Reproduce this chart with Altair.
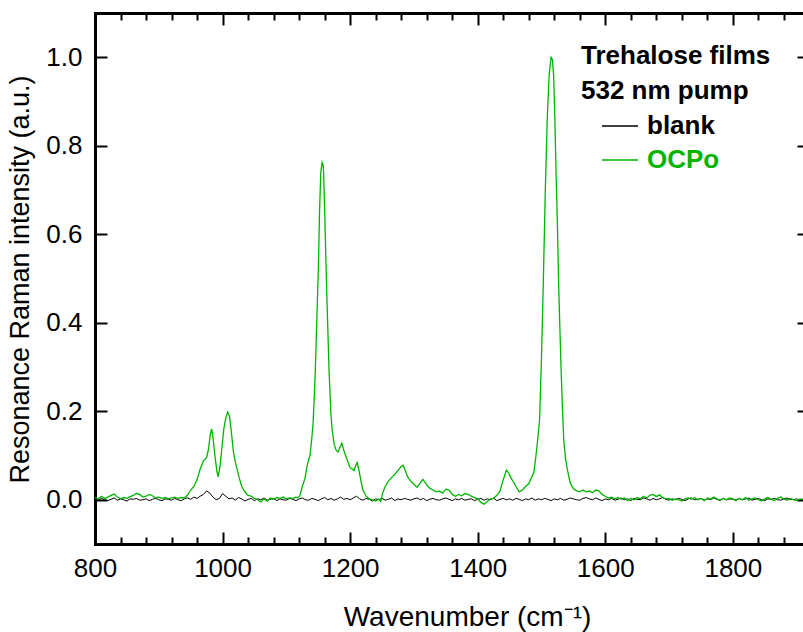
import altair as alt
import pandas as pd

# ---------------- data ----------------
# blank spectrum, sampled every 5 cm-1 from 800 to 1910 (values in 1/1000 a.u.)
blank_x = list(range(800, 1915, 5))
blank_milli = [
    2, -1, 3, 0, -2, 1, 4, -1, 2, 0, -3, 2, 1, 3, -1, 0, 2, -2, 1, 3,       # 800-895
    0, -2, 2, 1, -1, 3, 0, -2, 2, 4, 1, 6, 3, 8, 12, 20, 15, 6, 0, 3,        # 900-995
    14, 8, 2, 4, -1, 5, 2, -3, 1, 3, -2, 2, 0, 4, -1, 1, 3, -2, 2, 0,        # 1000-1095
    -1, 3, 1, -2, 2, 4, 0, -1, 3, 1, -2, 2, 5, 0, 3, -1, 2, 6, 1, 3,         # 1100-1195
    0, 4, 8, 2, -1, 3, 1, -3, 2, 0, 3, -1, 1, 4, -2, 2, 0, 3, 1, -1,         # 1200-1295
    2, 4, 0, 3, -2, 1, 3, 0, -1, 2, 4, 1, -2, 2, 0, 3, -1, 1, 2, -2,         # 1300-1395
    1, 3, -1, 2, 0, 4, -2, 1, 3, 0, 2, -1, 3, 1, -2, 2, 0, 4, -1, 2,         # 1400-1495
    0, 3, 1, -2, 2, 0, 3, -1, 1, 4, 2, 0, -1, 3, 5, 2, 0, 4, 1, -2,          # 1500-1595
    2, 0, 3, -1, 1, 4, 0, 2, -2, 3, 1, 0, 4, 2, -1, 3, 0, 2, 5, 1,           # 1600-1695
    -1, 2, 0, 3, 1, -2, 2, 4, 0, 1, 3, -1, 2, 0, 4, 1, -2, 3, 0, 2,          # 1700-1795
    1, -1, 3, 0, 2, 4, -1, 1, 3, 0, -2, 2, 1, 3, 0, -1, 2, 4, 1, 0,          # 1800-1895
    2, -1, 1,                                                                # 1900-1910
]

# OCPo spectrum (wavenumber, intensity in 1/1000 a.u.)
ocpo_x = [
    800, 805, 810, 815, 820, 825, 830, 835, 840, 845, 850, 855, 860, 865, 870,
    875, 880, 885, 890, 895, 900, 905, 910, 915, 920, 925, 930, 935, 940,
    945, 950, 955, 960, 965, 970, 975, 978, 981, 983, 985, 988, 991, 993, 996,
    999, 1002, 1005, 1008, 1011, 1014, 1017, 1020, 1023, 1026, 1030, 1035, 1040,
    1045, 1050, 1055, 1060, 1065, 1070, 1075, 1080, 1085, 1090, 1095, 1100, 1105,
    1110, 1115, 1118, 1121, 1125, 1129, 1133, 1137, 1140, 1142, 1144, 1146, 1148,
    1150, 1152, 1154, 1156, 1158, 1160, 1162, 1164, 1167, 1170, 1172, 1175, 1178,
    1181, 1184, 1187, 1190, 1193, 1196, 1200, 1203, 1206, 1209, 1211, 1214, 1217,
    1220, 1225, 1230, 1235, 1240, 1245, 1248, 1251, 1255, 1260, 1265, 1270, 1275,
    1280, 1283, 1286, 1290, 1295, 1300, 1305, 1310, 1314, 1318, 1322, 1326, 1330,
    1335, 1340, 1345, 1350, 1355, 1360, 1365, 1370, 1375, 1380, 1385, 1390, 1395,
    1400, 1405, 1410, 1415, 1420, 1425, 1430, 1435, 1440, 1445, 1448, 1452, 1456,
    1460, 1465, 1470, 1475, 1480, 1485, 1488, 1491, 1494, 1497, 1500, 1503, 1506,
    1509, 1512, 1515, 1517, 1519, 1521, 1523, 1525, 1527, 1529, 1531, 1533, 1535,
    1538, 1541, 1545, 1550, 1555, 1560, 1565, 1570, 1575, 1580, 1585, 1590, 1595,
    1600, 1605, 1610, 1615, 1620, 1625, 1630, 1635, 1640, 1645, 1650, 1655, 1660,
    1665, 1670, 1675, 1680, 1685, 1690, 1695, 1700, 1705, 1710, 1715, 1720, 1725,
    1730, 1735, 1740, 1745, 1750, 1755, 1760, 1765, 1770, 1775, 1780, 1785, 1790,
    1795, 1800, 1805, 1810, 1815, 1820, 1825, 1830, 1835, 1840, 1845, 1850, 1855,
    1860, 1865, 1870, 1875, 1880, 1885, 1890, 1895, 1900, 1905, 1910,
]
ocpo_milli = [
    5, 2, 8, 3, 6, 10, 13, 6, 2, 5, 3, 7, 10, 14, 12,
    6, 8, 12, 9, 4, 6, 3, 5, 2, 4, 6, 3, 5, 4,
    10, 22, 30, 45, 70, 88, 95, 115, 150, 160, 140, 100, 65, 52, 75,
    118, 160, 185, 198, 188, 150, 108, 85, 68, 50, 30, 18, 10,
    8, 3, 0, -5, 2, -3, 4, 1, 5, 3, 6, 2, 4,
    3, 6, 5, 8, 30, 47, 80, 100, 140, 175, 240, 320, 420,
    510, 650, 740, 762, 755, 660, 540, 435, 290, 190, 155, 125, 112,
    108, 118, 128, 112, 100, 88, 72, 70, 66, 78, 84, 65, 42,
    22, 8, 2, 0, -3, 2, -4, 15, 30, 42, 50, 58, 66,
    75, 78, 68, 52, 42, 35, 28, 38, 46, 38, 30, 25, 22,
    18, 20, 15, 24, 22, 12, 8, 12, 9, 14, 12, 8, 5,
    2, -6, -10, -4, 2, 3, 10, 20, 45, 67, 62, 50, 40,
    30, 18, 22, 30, 36, 52, 62, 95, 135, 180, 320, 500, 700,
    860, 960, 1000, 995, 960, 860, 730, 620, 480, 380, 285, 200, 133,
    90, 65, 38, 25, 20, 18, 22, 18, 20, 16, 22, 20, 12,
    8, 4, 6, 2, 5, 1, 4, -2, 3, 0, 5, 2, 8,
    4, 10, 12, 7, 11, 5, 2, 3, -1, 2, 0, -3, 2,
    4, 1, 5, 0, 3, -2, 4, 1, 6, 2, -1, 3, 0,
    4, 2, -2, 3, 0, 5, -1, 2, 4, 0, -3, 2, 5,
    1, -2, 3, 6, 2, -1, 3, 0, -2, 2, 1,
]
assert len(blank_x) == len(blank_milli)
assert len(ocpo_x) == len(ocpo_milli)

series_names = ["blank", "OCPo"]
series_colors = ["black", "#00b400"]

x_major = [800, 1000, 1200, 1400, 1600, 1800]
x_minor = [840, 880, 920, 960, 1040, 1080, 1120, 1160, 1240, 1280, 1320, 1360,
           1440, 1480, 1520, 1560, 1640, 1680, 1720, 1760, 1840, 1880]
y_major = [0.0, 0.2, 0.4, 0.6, 0.8, 1.0]

df = pd.concat([
    pd.DataFrame({"w": blank_x, "v": [m / 1000 for m in blank_milli], "series": "blank"}),
    pd.DataFrame({"w": ocpo_x, "v": [m / 1000 for m in ocpo_milli], "series": "OCPo"}),
], ignore_index=True)

# ---------------- chart ----------------
FONT = "Liberation Sans"
xscale = alt.Scale(domain=[800, 1910], nice=False, zero=False)
yscale = alt.Scale(domain=[-0.1, 1.1], nice=False, zero=False)
cscale = alt.Scale(domain=series_names, range=series_colors)


def X(axis):
    return alt.X("w:Q", scale=xscale, axis=axis)


def Y(axis):
    return alt.Y("v:Q", scale=yscale, axis=axis)


def tick_axis(orient, values, size):
    return alt.Axis(orient=orient, values=values, ticks=True, tickSize=size,
                    tickWidth=2, tickColor="black", offset=-size, domain=False,
                    labels=False, grid=False, title=None)


legend = alt.Legend(
    orient="none", legendX=486, legendY=30,
    title=["Trehalose films", "532 nm pump"], titleFont=FONT, titleFontSize=26,
    titleFontWeight="bold", titleColor="black", titleLineHeight=35,
    titlePadding=3, titleAnchor="start", titleLimit=500,
    labelFont=FONT, labelFontSize=26, labelFontWeight="bold", labelLimit=300,
    labelColor={"expr": "datum.label == 'OCPo' ? '#00b400' : 'black'"},
    symbolType="stroke", symbolSize=1296, symbolStrokeWidth=1.5,
    symbolOffset=20, labelOffset=8, rowPadding=2, padding=0,
)

main_x_axis = alt.Axis(
    orient="bottom", values=x_major, format="d", labelFlush=False, ticks=False,
    tickSize=0, domain=True, domainColor="black", domainWidth=3,
    domainCap="square", labels=True, labelFont=FONT, labelFontSize=26,
    labelColor="black", labelPadding=11, grid=False,
    title="Wavenumber (cm⁻¹)", titleFont=FONT, titleFontSize=28,
    titleFontWeight="normal", titleColor="black", titleBaseline="alphabetic",
    titleX=372, titleY=81,
)
main_y_axis = alt.Axis(
    orient="left", values=y_major, format=".1f", labelFlush=False, ticks=False,
    tickSize=0, domain=True, domainColor="black", domainWidth=3,
    domainCap="square", labels=True, labelFont=FONT, labelFontSize=26,
    labelColor="black", labelPadding=13, grid=False,
    title="Resonance Raman intensity (a.u.)", titleFont=FONT, titleFontSize=27,
    titleFontWeight="normal", titleColor="black", titleBaseline="middle",
    titleX=-75, titleY=266, titleAngle=270,
)

blank_layer = alt.Chart(df).transform_filter(alt.datum.series == "blank").mark_line(
    strokeWidth=1).encode(
    x=X(main_x_axis), y=Y(main_y_axis),
    color=alt.Color("series:N", scale=cscale, legend=legend),
)
ocpo_layer = alt.Chart(df).transform_filter(alt.datum.series == "OCPo").mark_line(
    strokeWidth=1.3).encode(
    x=X(None), y=Y(None),
    color=alt.Color("series:N", scale=cscale, legend=legend),
)


def ghost(xaxis, yaxis):
    return alt.Chart(df).mark_point(opacity=0, size=1).encode(x=X(xaxis), y=Y(yaxis))


top_domain = alt.Axis(orient="top", domain=True, domainColor="black", domainWidth=3,
                      domainCap="square", ticks=False, labels=False, grid=False,
                      title=None)

chart = alt.layer(
    blank_layer,
    ocpo_layer,
    ghost(tick_axis("bottom", x_major, 12), tick_axis("left", y_major, 12)),
    ghost(tick_axis("bottom", x_minor, 7), tick_axis("right", y_major, 6)),
    ghost(top_domain, None),
    ghost(tick_axis("top", x_major, 12), None),
    ghost(tick_axis("top", x_minor, 7), None),
).resolve_axis(x="independent", y="independent").properties(
    width=708, height=531,
    autosize=alt.AutoSizeParams(type="none"),
    padding={"left": 95, "top": 13, "right": 0, "bottom": 88},
).configure(font=FONT).configure_view(stroke=None)

chart.save("out.html", embed_options={"renderer": "svg", "actions": False})
